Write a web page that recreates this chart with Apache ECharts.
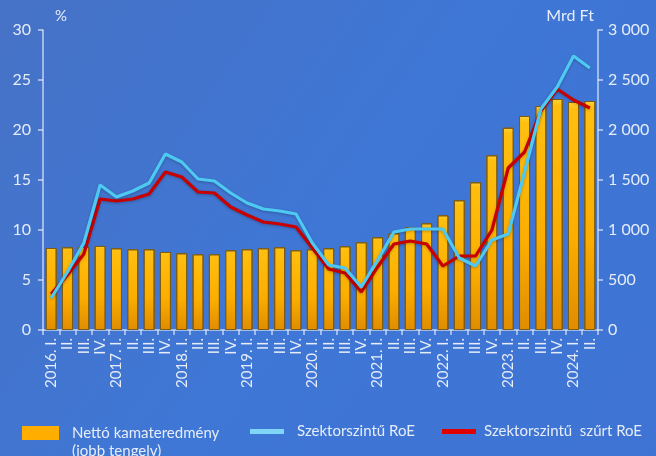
<!doctype html>
<html>
<head>
<meta charset="utf-8">
<title>Nettó kamateredmény és RoE</title>
<script src="https://cdn.jsdelivr.net/npm/echarts@6/dist/echarts.min.js"></script>
<style>
html,body{margin:0;padding:0;}
#main{width:656px;height:456px;}
</style>
</head>
<body>
<div id="main"></div>
<script>
// negyedévek
var quarters = ['2016. I.','II.','III.','IV.',
  '2017. I.','II.','III.','IV.',
  '2018. I.','II.','III.','IV.',
  '2019. I.','II.','III.','IV.',
  '2020. I.','II.','III.','IV.',
  '2021. I.','II.','III.','IV.',
  '2022. I.','II.','III.','IV.',
  '2023. I.','II.','III.','IV.',
  '2024. I.','II.'];

// Nettó kamateredmény, Mrd Ft (jobb tengely)
var nii = [820,827,830,840, 817,807,807,780, 767,757,757,797,
  807,817,827,797, 807,817,837,877, 927,967,1027,1067,
  1147,1297,1477,1747, 2023,2140,2240,2310, 2280,2290];

// Szektorszintű RoE, %
var roe = [3.2,5.8,8.7,14.5, 13.3,13.9,14.7,17.6, 16.8,15.1,14.9,13.7,
  12.7,12.1,11.9,11.6, 8.7,6.5,6.2,4.3, 7.0,9.8,10.1,10.1,
  10.1,7.2,6.4,9.0, 9.6,15.8,22.1,24.3, 27.4,26.2];

// Szektorszintű szűrt RoE, %
var roeFiltered = [3.6,5.5,7.6,13.1, 12.9,13.1,13.6,15.8, 15.3,13.8,13.7,12.3,
  11.5,10.8,10.6,10.3, 8.2,6.1,5.7,3.8, 6.3,8.6,8.9,8.6,
  6.4,7.4,7.4,10.0, 16.2,17.8,21.9,24.1, 23.0,22.2];

var txt = '#e6edf9';
var axisCol = 'rgba(235,242,255,0.75)';
var font = 'Lato';

var myChart = echarts.init(document.getElementById('main'));

myChart.setOption({
  backgroundColor: new echarts.graphic.LinearGradient(0,0,1,1,[
    {offset:0,color:'#4672c6'},
    {offset:0.5,color:'#3f77d6'},
    {offset:1,color:'#3e73d3'}
  ]),
  textStyle:{fontFamily:font},
  grid:{left:43,right:58,top:30,bottom:126},
  legend:[
    {
      data:['Nettó kamateredmény'],
      left:22, top:406, padding:0,
      icon:'rect', itemWidth:37, itemHeight:14,
      itemStyle:{color:'#ffae00',borderWidth:0},
      // üres első sor, hogy a felső szövegsor a jelölő mellé kerüljön
      formatter:function(n){return ' \n'+n+'\n(jobb tengely)';},
      textStyle:{color:txt,fontSize:15,fontFamily:font,lineHeight:18,padding:[0,0,0,8]}
    },
    {
      data:['Szektorszintű RoE'],
      left:250, top:424, padding:0,
      icon:'rect', itemWidth:34, itemHeight:5,
      itemStyle:{color:'#7fd6f7'},
      textStyle:{color:txt,fontSize:15,fontFamily:font,padding:[0,0,0,8]}
    },
    {
      data:['Szektorszintű  szűrt RoE'],
      left:442, top:424, padding:0,
      icon:'rect', itemWidth:34, itemHeight:5,
      itemStyle:{color:'#e00000'},
      textStyle:{color:txt,fontSize:15,fontFamily:font,padding:[0,0,0,3]}
    }
  ],
  xAxis:{
    type:'category',
    data:quarters,
    boundaryGap:true,
    axisLine:{lineStyle:{color:axisCol,width:1.5}},
    axisTick:{show:true,length:5,alignWithLabel:false,lineStyle:{color:axisCol,width:1.5}},
    axisLabel:{interval:0,rotate:90,margin:8,color:txt,fontSize:15,fontFamily:font}
  },
  yAxis:[
    {
      type:'value',
      min:0,max:30,interval:5,
      name:'%',
      nameLocation:'end',
      nameGap:6,
      nameTextStyle:{color:txt,fontSize:15,fontFamily:font,align:'left',padding:[0,0,0,12]},
      axisLine:{show:true,lineStyle:{color:axisCol,width:1.5}},
      axisTick:{show:true,length:5,lineStyle:{color:axisCol,width:1.5}},
      axisLabel:{color:txt,fontSize:16,fontFamily:font,margin:12},
      splitLine:{show:false}
    },
    {
      type:'value',
      min:0,max:3000,interval:500,
      name:'Mrd Ft',
      nameLocation:'end',
      nameGap:6,
      nameTextStyle:{color:txt,fontSize:16,fontFamily:font,align:'right',padding:[0,4,0,0]},
      axisLine:{show:true,lineStyle:{color:axisCol,width:1.5}},
      axisTick:{show:true,length:5,lineStyle:{color:axisCol,width:1.5}},
      axisLabel:{color:txt,fontSize:16,fontFamily:font,margin:10,
        formatter:function(v){
          return v>=1000 ? Math.floor(v/1000)+' '+String(v%1000).padStart(3,'0') : String(v);
        }},
      splitLine:{show:false}
    }
  ],
  series:[
    {
      name:'Nettó kamateredmény',
      type:'bar',
      yAxisIndex:1,
      data:nii,
      barWidth:11,
      itemStyle:{
        color:new echarts.graphic.LinearGradient(0,0,0,1,[
          {offset:0,color:'#ffd23a'},
          {offset:0.03,color:'#ffbf10'},
          {offset:0.6,color:'#fbad00'},
          {offset:1,color:'#e08c00'}
        ]),
        borderColor:'#7d5b10',
        borderWidth:1
      }
    },
    {
      name:'Szektorszintű  szűrt RoE',
      type:'line',
      data:roeFiltered,
      symbol:'none',
      z:3,
      lineStyle:{color:'#c80000',width:3.2,shadowColor:'rgba(0,0,0,0.25)',shadowBlur:3,shadowOffsetY:1}
    },
    {
      name:'Szektorszintű RoE',
      type:'line',
      data:roe,
      symbol:'none',
      z:4,
      lineStyle:{color:'#4ec9f2',width:3.2,shadowColor:'rgba(0,0,0,0.25)',shadowBlur:3,shadowOffsetY:1}
    }
  ]
});
</script>
</body>
</html>
